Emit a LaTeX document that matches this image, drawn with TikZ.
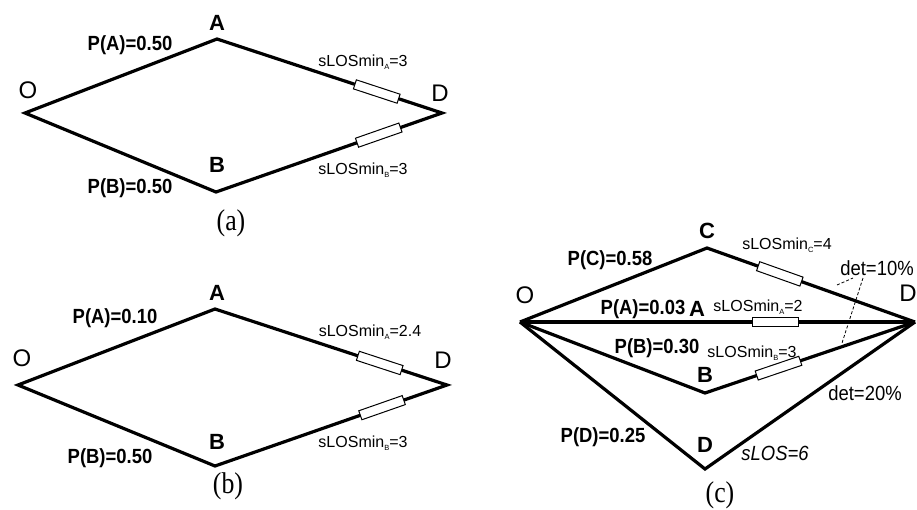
\documentclass[tikz,border=0pt]{standalone}
\usepackage{fontspec}
\newfontfamily\lab[FakeStretch=0.9]{Liberation Sans}
\newfontfamily\labw{Liberation Sans}
\newfontfamily\capf[FakeStretch=0.86]{Liberation Serif}
\newcommand\sbs[1]{\raisebox{-2.5pt}{\fontsize{7.5}{7.5}\selectfont #1}}
\begin{document}
\begin{tikzpicture}[x=1pt,y=-1pt,
 edge/.style={line width=3.2pt, line join=miter},
 gate/.style={draw, line width=1pt, fill=white, minimum width=46pt, minimum height=9.5pt, inner sep=0pt, sloped, rectangle},
 plab/.style={font=\lab\bfseries\fontsize{20.5}{20.5}\selectfont, inner sep=0pt},
 vlab/.style={font=\labw\bfseries\fontsize{22}{22}\selectfont, inner sep=0pt},
 olab/.style={font=\labw\fontsize{24}{24}\selectfont, inner sep=0pt},
 slab/.style={font=\labw\fontsize{16}{16}\selectfont, inner sep=0pt},
 dlab/.style={font=\lab\fontsize{20.5}{20.5}\selectfont, inner sep=0pt},
 captext/.style={font=\capf\fontsize{30}{30}\selectfont, inner sep=0pt},
 detl/.style={line width=0.8pt, densely dashed},
]
\useasboundingbox (0,0) rectangle (917,509);
% ---------------- (a)
\coordinate (Oa) at (25,113);
\coordinate (Aa) at (217,39);
\coordinate (Da) at (442,113);
\coordinate (Ba) at (216,192);
\draw[edge] (Oa) -- (Aa) -- (Da) -- (Ba) -- cycle;
\path (Aa) -- (Da) node[gate, pos=0.71] (gAa) {};
\path (Ba) -- (Da) node[gate, pos=0.72] (gBa) {};
\node[olab] (lOa) at (28,90) {O};
\node[vlab] (lAa) at (217,23) {A};
\node[olab] (lDa) at (440,93) {D};
\node[vlab] (lBa) at (217,165) {B};
\node[plab] (pAa) at (130,45) {P(A)=0.50};
\node[plab] (pBa) at (130,188) {P(B)=0.50};
\node[slab] (sAa) at (363,62) {sLOSmin\sbs{A}=3};
\node[slab] (sBa) at (363,170) {sLOSmin\sbs{B}=3};
\node[captext] (capa) at (231,223) {(a)};
% ---------------- (b)
\coordinate (Ob) at (18,385);
\coordinate (Ab) at (215,309);
\coordinate (Db) at (447,385);
\coordinate (Bb) at (215,466);
\draw[edge] (Ob) -- (Ab) -- (Db) -- (Bb) -- cycle;
\path (Ab) -- (Db) node[gate, pos=0.71] (gAb) {};
\path (Bb) -- (Db) node[gate, pos=0.72] (gBb) {};
\node[olab] (lOb) at (22,358) {O};
\node[vlab] (lAb) at (217,293) {A};
\node[olab] (lDb) at (443,360) {D};
\node[vlab] (lBb) at (217,442) {B};
\node[plab] (pAb) at (115,318) {P(A)=0.10};
\node[plab] (pBb) at (110,458) {P(B)=0.50};
\node[slab] (sAb) at (370,332) {sLOSmin\sbs{A}=2.4};
\node[slab] (sBb) at (363,443) {sLOSmin\sbs{B}=3};
\node[captext] (capb) at (228,486) {(b)};
% ---------------- (c)
\coordinate (Oc) at (520,322);
\coordinate (Cc) at (707,248);
\coordinate (Dc) at (915,322);
\coordinate (Bc) at (705,393);
\coordinate (Ec) at (705,469);
\draw[edge] (Oc) -- (Cc) -- (Dc);
\draw[edge] (Oc) -- (Dc);
\draw[edge] (Oc) -- (Bc) -- (Dc);
\draw[edge] (Oc) -- (Ec) -- (Dc);
\path (Cc) -- (Dc) node[gate, pos=0.35] (gCc) {};
\path (Oc) -- (Dc) node[gate, pos=0.647] (gAc) {};
\path (Bc) -- (Dc) node[gate, pos=0.35] (gBc) {};
\coordinate (d1a) at (837,285);
\coordinate (d1b) at (853,278);
\coordinate (d2a) at (863,278);
\coordinate (d2b) at (842,343);
\draw[detl] (d1a) -- (d1b);
\draw[detl] (d2a) -- (d2b);
\node[olab] (lOc) at (525,295) {O};
\node[vlab] (lCc) at (707,231) {C};
\node[olab] (lDc) at (908,293) {D};
\node[vlab] (lAc) at (697,309) {A};
\node[vlab] (lBc) at (705,375) {B};
\node[vlab] (lEc) at (705,445) {D};
\node[plab] (pCc) at (610,260) {P(C)=0.58};
\node[plab] (pAc) at (643,309) {P(A)=0.03};
\node[plab] (pBc) at (657,348) {P(B)=0.30};
\node[plab] (pDc) at (603,437) {P(D)=0.25};
\node[slab] (sCc) at (787,245) {sLOSmin\sbs{C}=4};
\node[slab] (sAc) at (758,307) {sLOSmin\sbs{A}=2};
\node[slab] (sBc) at (752,353) {sLOSmin\sbs{B}=3};
\node[dlab] (det1) at (877,268) {det=10\%};
\node[dlab] (det2) at (865,393) {det=20\%};
\node[dlab, font=\lab\itshape\fontsize{20.5}{20.5}\selectfont] (slos) at (775,453) {sLOS=6};
\node[captext] (capc) at (720,495) {(c)};
\end{tikzpicture}
\end{document}
